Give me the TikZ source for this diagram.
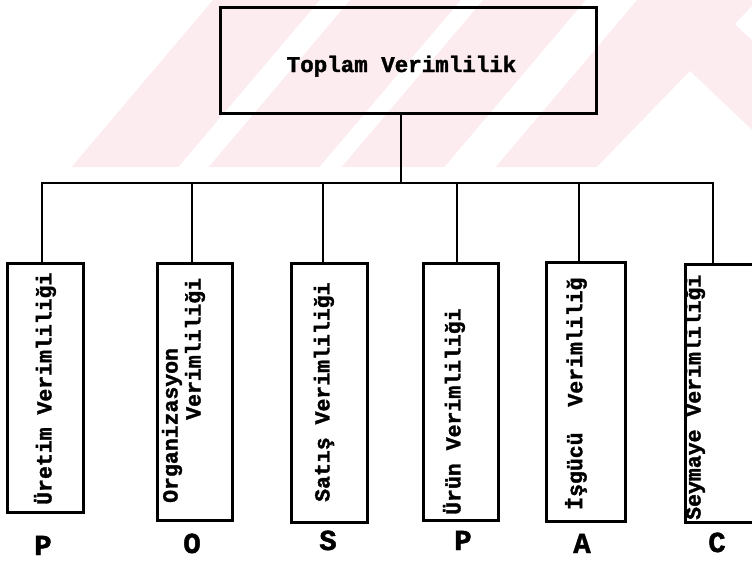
\documentclass[tikz,border=0pt]{standalone}
\usepackage{fontspec}
\newfontfamily\twfont{Liberation Mono}[BoldFeatures={FakeBold=1.6}]
\begin{document}
\begin{tikzpicture}[x=1pt,y=-1pt,
  wm/.style={fill={rgb,255:red,253;green,236;blue,239}},
  box/.style={draw=black,line width=3pt,inner sep=0pt,rectangle},
  link/.style={draw=black,line width=2.6pt},
  lbl/.style={rotate=90,anchor=west,inner sep=0pt,font=\twfont\bfseries\fontsize{21.5}{24}\selectfont},
  tag/.style={anchor=base,inner sep=0pt,font=\twfont\bfseries\fontsize{29}{32}\selectfont}]
\useasboundingbox (0,0) rectangle (752,560);
\clip (0,0) rectangle (752,560);

% faint striped background band
\fill[wm] (71.5,167) -- (213,0) -- (752,0) -- (752,167) -- cycle;
\fill[white] (178.5,167) -- (320,0) -- (350,0) -- (208.5,167) -- cycle;
\fill[white] (319.5,167) -- (461,0) -- (483,0) -- (341.5,167) -- cycle;
\fill[white] (444.5,167) -- (586,0) -- (637,0) -- (495.5,167) -- cycle;
\fill[white] (597,167) -- (690,71) -- (752,130) -- (752,167) -- cycle;
\fill[white] (735,24) -- (752,6) -- (752,40) -- cycle;

% top box
\node[box,minimum width=376pt,minimum height=106pt] (top) at (408,60) {};
\node[anchor=base,inner sep=0pt,font=\twfont\bfseries\fontsize{22.5}{25}\selectfont] (toptxt) at (401.5,72) {Toplam Verimlilik};

% child boxes
\node[box,minimum width=76pt,minimum height=249pt] (b1) at (45,387.5) {};
\node[box,minimum width=75pt,minimum height=257pt] (b2) at (194.5,391.5) {};
\node[box,minimum width=76pt,minimum height=259pt] (b3) at (329,392.5) {};
\node[box,minimum width=75pt,minimum height=257pt] (b4) at (460.5,391.5) {};
\node[box,minimum width=79pt,minimum height=259pt] (b5) at (585.5,391.5) {};
\node[box,minimum width=76pt,minimum height=258pt] (b6) at (723,393) {};

% rotated labels
\node[lbl] (t1) at (45,505) {Üretim Verimliliği};
\node[lbl] (t2a) at (172,503) {Organizasyon};
\node[lbl] (t2b) at (195,420) {Verimliliği};
\node[lbl] (t3) at (324,502) {Satış Verimliliği};
\node[lbl] (t4) at (454,515) {Ürün Verimliliği};
\node[lbl] (t5) at (576,510) {İşgücü\ \ Verimliliğ};
\node[lbl] (t6) at (695,520) {Seymaye Verimliliği};

% letters under the boxes
\node[tag] (l1) at (43,555) {P};
\node[tag] (l2) at (192,553) {O};
\node[tag] (l3) at (328,550) {S};
\node[tag] (l4) at (463,550) {P};
\node[tag] (l5) at (582,553) {A};
\node[tag] (l6) at (717,552) {C};

% bus and drop points
\coordinate (bm) at (401,183);
\coordinate (d1) at (42,183);
\coordinate (d2) at (192,183);
\coordinate (d3) at (323,183);
\coordinate (d4) at (457,183);
\coordinate (d5) at (579,183);
\coordinate (d6) at (713,183);

\draw[link] (bm |- top.south) -- (bm);
\draw[link,line cap=rect] (d1) -- (d6);
\draw[link] (d1) -- (d1 |- b1.north);
\draw[link] (d2) -- (d2 |- b2.north);
\draw[link] (d3) -- (d3 |- b3.north);
\draw[link] (d4) -- (d4 |- b4.north);
\draw[link] (d5) -- (d5 |- b5.north);
\draw[link] (d6) -- (d6 |- b6.north);
\end{tikzpicture}
\end{document}
